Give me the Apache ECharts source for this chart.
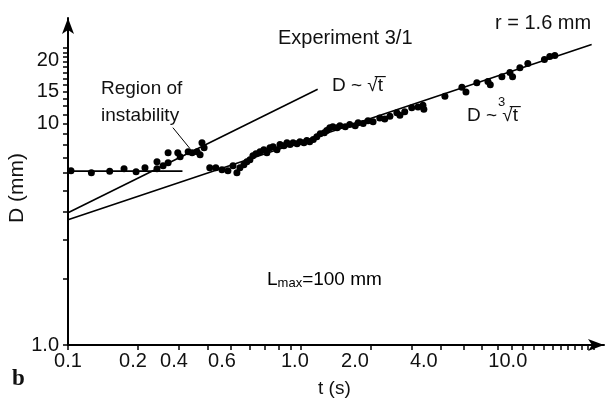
<!DOCTYPE html>
<html>
<head>
<meta charset="utf-8">
<script src="https://cdn.jsdelivr.net/npm/echarts@6/dist/echarts.min.js"></script>
<style>
html, body { margin: 0; padding: 0; background: #fff; }
#chart { width: 615px; height: 403px; }
</style>
</head>
<body>
<div id="chart"></div>
<script>
// t (s), D (mm)
const instabilityPts = [
  [0.103, 6.13], [0.126, 6.0], [0.151, 6.1], [0.174, 6.26], [0.196, 6.06],
  [0.214, 6.32], [0.241, 6.73], [0.241, 6.26], [0.256, 6.46], [0.269, 7.39],
  [0.269, 6.66], [0.296, 7.39], [0.303, 7.09], [0.328, 7.47], [0.341, 7.39],
  [0.358, 7.47], [0.369, 7.24], [0.376, 8.2], [0.384, 7.79]
]
const growthPts = [
  [0.406, 6.32], [0.431, 6.32], [0.458, 6.19], [0.486, 6.13], [0.511, 6.46],
  [0.531, 6.0], [0.547, 6.32], [0.569, 6.52], [0.586, 6.73], [0.604, 6.87],
  [0.622, 7.16], [0.641, 7.31], [0.667, 7.47], [0.693, 7.63], [0.714, 7.39],
  [0.736, 7.79], [0.759, 7.87], [0.789, 7.63], [0.813, 8.04], [0.845, 7.95],
  [0.871, 8.2], [0.898, 8.04], [0.925, 8.2], [0.962, 8.12], [0.99, 8.29],
  [1.03, 8.2], [1.06, 8.38], [1.09, 8.29], [1.13, 8.47], [1.17, 8.73],
  [1.21, 9.01], [1.26, 9.1], [1.29, 9.3], [1.33, 9.59], [1.37, 9.69],
  [1.43, 9.59], [1.47, 9.79], [1.55, 9.69], [1.62, 9.9], [1.71, 9.79],
  [1.76, 10.1], [1.85, 10.0], [1.94, 10.3], [2.04, 10.2], [2.18, 10.6],
  [2.29, 10.5], [2.41, 10.8], [2.58, 11.2], [2.66, 10.9], [2.79, 11.3],
  [2.99, 11.8], [3.18, 11.9], [3.34, 12.1], [3.37, 11.6], [4.15, 13.3],
  [4.91, 14.6], [5.11, 13.9], [5.69, 15.3], [6.35, 15.5], [6.5, 15.0],
  [7.29, 16.3], [7.89, 17.0], [8.1, 16.3], [8.71, 17.9], [9.42, 18.7],
  [11.1, 19.5], [11.7, 20.1], [12.3, 20.3]
]
const plateauLine = [[0.1, 6.1], [0.31, 6.1]]
const sqrtLine = [[0.1, 3.96], [1.18, 14.3]]
const cbrtLine = [[0.1, 3.68], [17.7, 22.8]]
const leaderLine = [[0.282, 9.59], [0.334, 7.71]]

// tick labels as printed (the printed labels sit where they sit)
const xTickLabels = ['0.1', '0.2', '0.4', '0.6', '1.0', '2.0', '4.0', '10.0']
const xTickAt = [0.1, 0.19, 0.285, 0.458, 0.942, 1.706, 3.37, 7.73]
const yTickLabels = ['1.0', '10', '15', '20']
const yTickAt = [1, 10, 14.0, 19.2]
const xMinorTicks = [0.1, 0.2, 0.3, 0.4, 0.5, 0.6, 0.7, 0.8, 0.9, 1, 2, 3, 4, 5, 6, 7, 8, 9, 10,
  11, 12, 13, 14, 15, 16, 17, 18]
const yMinorTicks = [1, 2, 3, 4, 5, 6, 7, 8, 9, 10, 11, 12, 13, 14, 15, 16, 17, 18, 19, 20, 21, 22]

function nearestLabel(v, at, labels) {
  let best = 0
  for (let i = 1; i < at.length; i++) {
    if (Math.abs(Math.log(at[i] / v)) < Math.abs(Math.log(at[best] / v))) best = i
  }
  return labels[best]
}

const font = 'Liberation Sans, Arial, Helvetica, sans-serif'
const ink = '#000'

let myChart = echarts.init(document.getElementById('chart'))
let lineSeries = (data) => ({
  type: 'line', data: data, symbol: 'none', silent: true,
  lineStyle: { color: ink, width: 1.6 }
})
let option = {
  animation: false,
  grid: { left: 68, right: 11, top: 18, bottom: 58 },
  xAxis: {
    type: 'log', logBase: 10, min: 0.1, max: 20,
    axisLine: { symbol: ['none', 'arrow'], symbolSize: [9, 16], lineStyle: { color: ink, width: 2 } },
    axisTick: { customValues: xMinorTicks, length: 5, lineStyle: { color: ink, width: 1.5 } },
    axisLabel: {
      customValues: xTickAt, margin: 6, color: '#111', fontFamily: font, fontSize: 20,
      formatter: (v) => nearestLabel(v, xTickAt, xTickLabels)
    },
    splitLine: { show: false }, minorTick: { show: false }
  },
  yAxis: {
    type: 'log', logBase: 10, min: 1, max: 30,
    axisLine: { symbol: ['none', 'arrow'], symbolSize: [9, 16], lineStyle: { color: ink, width: 2 } },
    axisTick: { customValues: yMinorTicks, length: 5, lineStyle: { color: ink, width: 1.5 } },
    axisLabel: {
      customValues: yTickAt, margin: 9, color: '#111', fontFamily: font, fontSize: 20,
      formatter: (v) => nearestLabel(v, yTickAt, yTickLabels)
    },
    splitLine: { show: false }
  },
  series: [
    lineSeries(plateauLine),
    lineSeries(sqrtLine),
    lineSeries(cbrtLine),
    Object.assign(lineSeries(leaderLine), { lineStyle: { color: ink, width: 1 } }),
    { type: 'scatter', data: instabilityPts, symbolSize: 7, itemStyle: { color: ink, opacity: 1 } },
    { type: 'scatter', data: growthPts, symbolSize: 7, itemStyle: { color: ink, opacity: 1 } }
  ],
  graphic: [
    { type: 'text', left: 278, top: 28, style: { text: 'Experiment 3/1', font: '20px ' + font, fill: '#111' } },
    { type: 'text', left: 495, top: 13, style: { text: 'r = 1.6 mm', font: '20px ' + font, fill: '#111' } },
    { type: 'text', left: 101, top: 79, style: { text: 'Region of', font: '19px ' + font, fill: '#111' } },
    { type: 'text', left: 101, top: 106, style: { text: 'instability', font: '19px ' + font, fill: '#111' } },
    { type: 'text', left: 332, top: 76, style: { text: 'D ~ \u221At\u0305', font: '19px ' + font, fill: '#111' } },
    { type: 'text', left: 467, top: 106, style: { text: 'D ~ \u221At\u0305', font: '19px ' + font, fill: '#111' } },
    { type: 'text', left: 498, top: 96, style: { text: '3', font: '13px ' + font, fill: '#111' } },
    { type: 'text', left: 267, top: 270, style: {
      text: '{n|L}{s|max}{n|=100 mm}',
      rich: { n: { font: '19px ' + font, color: '#111' }, s: { font: '13px ' + font, color: '#111', padding: [8, 0, 0, 0] } }
    } },
    { type: 'text', left: 318, top: 379, style: { text: 't (s)', font: '19px ' + font, fill: '#111' } },
    { type: 'text', left: 12, top: 368, style: { text: 'b', font: 'bold 23px "Liberation Serif", serif', fill: '#111' } },
    { type: 'text', x: 7, y: 223, rotation: Math.PI / 2, style: { text: 'D (mm)', font: '21px ' + font, fill: '#111' } }
  ]
}
myChart.setOption(option)
</script>
</body>
</html>
